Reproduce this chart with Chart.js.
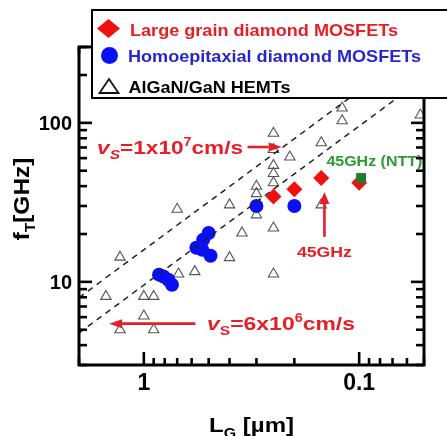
<!DOCTYPE html>
<html>
<head>
<meta charset="utf-8">
<script src="https://cdn.jsdelivr.net/npm/chart.js@4.4.1/dist/chart.umd.min.js"></script>
<style>
  html, body { margin: 0; padding: 0; background: #fff; }
  canvas { display: block; }
</style>
</head>
<body>
<canvas id="c" width="447" height="436"></canvas>
<script>
// Gate length L_G [µm] versus cutoff frequency f_T [GHz]

// AlGaN/GaN HEMTs
const hemtLg = [1.5, 1.29, 1.29, 1.0, 0.9, 1.0, 0.9, 0.70, 0.69, 0.58, 0.40, 0.40, 0.35, 0.30, 0.30, 0.30,
                0.25, 0.25, 0.25, 0.25, 0.25, 0.25, 0.25, 0.21, 0.15, 0.15, 0.12, 0.12, 0.052];
const hemtFt = [8.1, 14.3, 5.0, 8.1, 8.1, 6.1, 5.0, 28.6, 11.2, 11.6, 30.5, 14.2, 20.3, 39.9, 35.9, 26.4,
                86, 68, 54, 48, 42, 21.8, 11.2, 61, 75, 30.5, 124, 103, 112];

// Homoepitaxial diamond MOSFETs
const homoLg = [0.30, 0.20, 0.85, 0.81, 0.77, 0.74, 0.50, 0.53, 0.57, 0.535, 0.49];
const homoFt = [30, 30, 11.1, 10.8, 10.3, 9.6, 20.3, 18.4, 16.4, 15.9, 14.6];

// Large grain diamond MOSFETs
const largeLg = [0.25, 0.20, 0.15, 0.10];
const largeFt = [34.4, 38.3, 45, 42];

// NTT reference device
const nttLg = [0.098];
const nttFt = [45];

// Saturation-velocity guide lines, end points at L_G = 2 µm and 0.05 µm
const guideLg = [2, 0.05];
const guideFastFt = [7.96, 318];   // vs = 1x10^7 cm/s
const guideSlowFt = [4.77, 191];   // vs = 6x10^6 cm/s

// Axis ticks
const xMajor = [1, 0.1];
const xMajorLabels = ['1', '0.1'];
const xMinor = [2, 0.9, 0.8, 0.7, 0.6, 0.5, 0.4, 0.3, 0.2, 0.09, 0.08, 0.07, 0.06, 0.05];
const yMajor = [10, 100];
const yMajorLabels = ['10', '100'];
const yMinor = [3, 4, 5, 6, 7, 8, 9, 20, 30, 40, 50, 60, 70, 80, 90, 200, 300];

const FONT = '"Liberation Sans", Arial, Helvetica, sans-serif';
const RED = '#e61e25';
const BLUE_TXT = '#2626cc';
const GREEN_TXT = '#2e9a34';

const pts = (xs, ys) => xs.map((x, i) => ({ x: x, y: ys[i] }));

// Draw a run of differently styled text pieces, optionally squeezed/stretched to a width
function textRun(ctx, parts, x, y, opt) {
  let w = 0;
  parts.forEach(p => { ctx.font = p.font; p.w = ctx.measureText(p.t).width; w += p.w; });
  const sx = opt.width ? opt.width / w : 1;
  const total = w * sx;
  const off = opt.align === 'center' ? -total / 2 : opt.align === 'right' ? -total : 0;
  ctx.save();
  ctx.translate(x, y);
  if (opt.rotate) ctx.rotate(opt.rotate);
  ctx.translate(off, 0);
  ctx.scale(sx, 1);
  ctx.textAlign = 'left';
  ctx.textBaseline = 'alphabetic';
  let cx = 0;
  parts.forEach(p => {
    ctx.font = p.font;
    ctx.fillStyle = p.color || opt.color;
    ctx.fillText(p.t, cx, p.dy || 0);
    cx += p.w;
  });
  ctx.restore();
}

function arrow(ctx, x1, y1, x2, y2, color, lw, headLen, headHalf) {
  const ang = Math.atan2(y2 - y1, x2 - x1);
  const bx = x2 - headLen * Math.cos(ang), by = y2 - headLen * Math.sin(ang);
  ctx.save();
  ctx.strokeStyle = color; ctx.fillStyle = color; ctx.lineWidth = lw;
  ctx.beginPath(); ctx.moveTo(x1, y1); ctx.lineTo(bx, by); ctx.stroke();
  ctx.beginPath();
  ctx.moveTo(x2, y2);
  ctx.lineTo(bx + headHalf * Math.sin(ang), by - headHalf * Math.cos(ang));
  ctx.lineTo(bx - headHalf * Math.sin(ang), by + headHalf * Math.cos(ang));
  ctx.closePath(); ctx.fill();
  ctx.restore();
}

const decorations = {
  id: 'decorations',
  afterDatasetsDraw(chart) {
    const ctx = chart.ctx, a = chart.chartArea;
    const X = v => chart.scales.x.getPixelForValue(v);
    const Y = v => chart.scales.y.getPixelForValue(v);
    const b = s => 'bold ' + s + 'px ' + FONT;
    const bi = s => 'italic bold ' + s + 'px ' + FONT;

    // --- annotations ---
    // vs = 1x10^7 cm/s
    textRun(ctx, [
      { t: 'v', font: bi(19) },
      { t: 'S', font: bi(13), dy: 5 },
      { t: '=1x10', font: b(19) },
      { t: '7', font: b(12), dy: -8 },
      { t: 'cm/s', font: b(19) }
    ], X(0.346), Y(70.5) + 7, { width: 146, align: 'right', color: RED });
    arrow(ctx, X(0.33), Y(70.5), X(0.229), Y(70.5), RED, 2.6, 13, 4.5);

    // vs = 6x10^6 cm/s
    textRun(ctx, [
      { t: 'v', font: bi(19) },
      { t: 'S', font: b(13), dy: 5 },
      { t: '=6x10', font: b(19) },
      { t: '6', font: b(12), dy: -8 },
      { t: 'cm/s', font: b(19) }
    ], X(0.509), Y(5.48) + 7, { width: 148, align: 'left', color: RED });
    arrow(ctx, X(0.576), Y(5.46), X(1.45), Y(5.46), RED, 2.6, 13, 4.5);

    // 45GHz marker for the 0.15 µm device
    arrow(ctx, X(0.145), Y(19.2), X(0.145), Y(36.8), RED, 2.6, 12, 5);
    textRun(ctx, [{ t: '45GHz', font: b(15) }], X(0.145), Y(15.4) + 5,
            { width: 55, align: 'center', color: RED });

    // NTT label
    textRun(ctx, [{ t: '45GHz (NTT)', font: b(14) }], X(0.142), Y(56.4) + 4,
            { width: 96, align: 'left', color: GREEN_TXT });

    // --- frame and inward ticks ---
    ctx.save();
    ctx.strokeStyle = '#000';
    ctx.lineCap = 'butt';
    ctx.lineWidth = 2.6;
    const tick = (x1, y1, x2, y2) => { ctx.beginPath(); ctx.moveTo(x1, y1); ctx.lineTo(x2, y2); ctx.stroke(); };
    xMajor.forEach(v => { const x = X(v); tick(x, a.bottom, x, a.bottom - 13); tick(x, a.top, x, a.top + 13); });
    xMinor.forEach(v => { const x = X(v); tick(x, a.bottom, x, a.bottom - 7); tick(x, a.top, x, a.top + 7); });
    yMajor.forEach(v => { const y = Y(v); tick(a.left, y, a.left + 13, y); tick(a.right, y, a.right - 13, y); });
    yMinor.forEach(v => { const y = Y(v); tick(a.left, y, a.left + 8, y); tick(a.right, y, a.right - 8, y); });
    ctx.lineWidth = 3;
    ctx.strokeRect(a.left, a.top, a.right - a.left, a.bottom - a.top);
    ctx.restore();

    // --- tick labels ---
    xMajor.forEach((v, i) => textRun(ctx, [{ t: xMajorLabels[i], font: b(23) }], X(v), a.bottom + 25,
                                     { align: 'center', color: '#000' }));
    yMajor.forEach((v, i) => textRun(ctx, [{ t: yMajorLabels[i], font: b(20) }], a.left - 7, Y(v) + 7,
                                     { align: 'right', color: '#000' }));

    // --- axis titles ---
    textRun(ctx, [
      { t: 'L', font: b(21) },
      { t: 'G', font: b(14), dy: 6 },
      { t: ' [µm]', font: b(21) }
    ], (a.left + a.right) / 2 - 0, a.bottom + 67, { width: 85, align: 'center', color: '#000' });

    textRun(ctx, [
      { t: 'f', font: b(22) },
      { t: 'T', font: b(14), dy: 6 },
      { t: '[GHz]', font: b(22) }
    ], 29, (a.top + a.bottom) / 2 - 7, { width: 83, align: 'center', color: '#000', rotate: -Math.PI / 2 });

    // --- legend box ---
    ctx.save();
    ctx.fillStyle = '#fff';
    ctx.strokeStyle = '#000';
    ctx.lineWidth = 2;
    ctx.fillRect(92, 10, 380, 88);
    ctx.strokeRect(92, 10, 380, 88);

    // diamond
    ctx.fillStyle = '#f01010';
    ctx.beginPath();
    ctx.moveTo(97, 28.5); ctx.lineTo(108.5, 19); ctx.lineTo(120, 28.5); ctx.lineTo(108.5, 38);
    ctx.closePath(); ctx.fill();
    // circle
    ctx.fillStyle = '#0a10f5';
    ctx.beginPath(); ctx.arc(109.5, 55.5, 8.5, 0, Math.PI * 2); ctx.fill();
    // triangle
    ctx.strokeStyle = '#111'; ctx.lineWidth = 1.8;
    ctx.beginPath();
    ctx.moveTo(109, 79); ctx.lineTo(118.5, 93); ctx.lineTo(99.5, 93); ctx.closePath(); ctx.stroke();
    ctx.restore();

    textRun(ctx, [{ t: 'Large grain diamond MOSFETs', font: b(17) }], 130, 35.5, { width: 268, color: RED });
    textRun(ctx, [{ t: 'Homoepitaxial diamond MOSFETs', font: b(17) }], 128, 62, { width: 293, color: BLUE_TXT });
    textRun(ctx, [{ t: 'AlGaN/GaN HEMTs', font: b(17) }], 128.5, 92.5, { width: 162, color: '#000' });
  }
};

new Chart(document.getElementById('c'), {
  type: 'scatter',
  data: {
    datasets: [
      {
        label: 'AlGaN/GaN HEMTs',
        data: pts(hemtLg, hemtFt),
        pointStyle: 'triangle',
        pointRadius: 6,
        borderColor: '#555',
        backgroundColor: 'rgba(0,0,0,0)',
        borderWidth: 1.1,
        order: 6
      },
      {
        label: 'Homoepitaxial diamond MOSFETs',
        data: pts(homoLg, homoFt),
        pointStyle: 'circle',
        pointRadius: 7,
        borderWidth: 0,
        backgroundColor: '#0a10f5',
        borderColor: '#0a10f5',
        order: 5
      },
      {
        label: 'vs = 1x10^7 cm/s',
        data: pts(guideLg, guideFastFt),
        showLine: true,
        pointRadius: 0,
        borderColor: '#222',
        borderWidth: 1.5,
        borderDash: [6, 5],
        order: 4
      },
      {
        label: 'vs = 6x10^6 cm/s',
        data: pts(guideLg, guideSlowFt),
        showLine: true,
        pointRadius: 0,
        borderColor: '#222',
        borderWidth: 1.5,
        borderDash: [6, 5],
        order: 3
      },
      {
        label: 'Large grain diamond MOSFETs',
        data: pts(largeLg, largeFt),
        pointStyle: 'rectRot',
        pointRadius: 8,
        borderWidth: 0,
        backgroundColor: '#f01010',
        borderColor: '#f01010',
        order: 2
      },
      {
        label: 'NTT',
        data: pts(nttLg, nttFt),
        pointStyle: 'rect',
        pointRadius: 7,
        borderWidth: 0,
        backgroundColor: '#1e7d2e',
        borderColor: '#1e7d2e',
        order: 1
      }
    ]
  },
  options: {
    responsive: false,
    animation: false,
    events: [],
    layout: { padding: { left: 79, right: 23, top: 47, bottom: 71 } },
    plugins: { legend: { display: false }, tooltip: { enabled: false } },
    scales: {
      x: { type: 'logarithmic', reverse: true, min: 0.05, max: 2, display: false },
      y: { type: 'logarithmic', min: 3, max: 300, display: false }
    }
  },
  plugins: [decorations]
});
</script>
</body>
</html>
